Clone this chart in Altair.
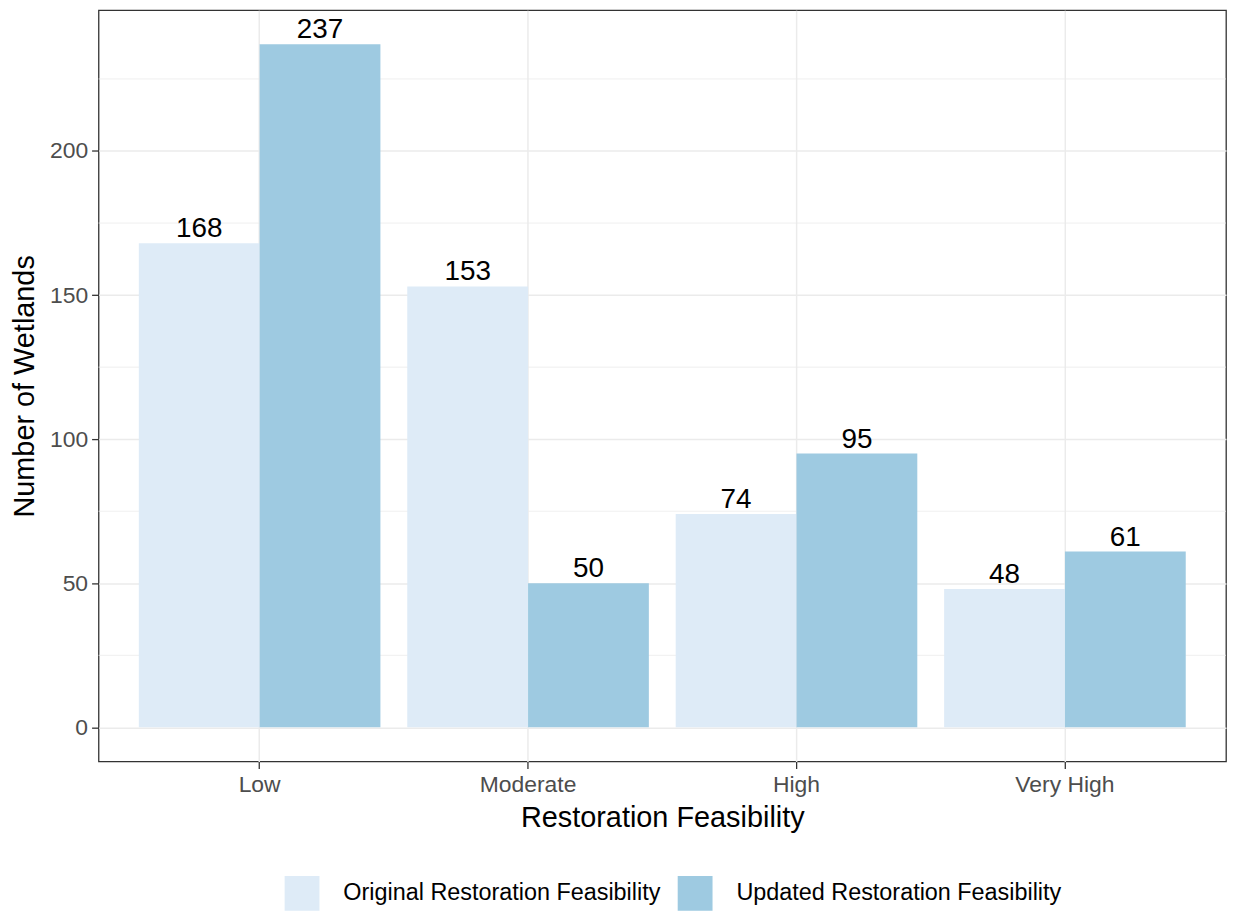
import altair as alt
import pandas as pd

categories = ["Low", "Moderate", "High", "Very High"]
series = ["Original Restoration Feasibility", "Updated Restoration Feasibility"]
original = [168, 153, 74, 48]
updated = [237, 50, 95, 61]
major_ticks = [0, 50, 100, 150, 200]
minor_ticks = [25, 75, 125, 175, 225]
colors = ["#deebf7", "#9ecae1"]

rows = []
for c, o, u in zip(categories, original, updated):
    rows.append({"cat": c, "series": series[0], "value": o})
    rows.append({"cat": c, "series": series[1], "value": u})
df = pd.DataFrame(rows)
minor_df = pd.DataFrame({"v": minor_ticks})

FONT = "Liberation Sans"

x_enc = alt.X(
    "cat:N", sort=categories, title="Restoration Feasibility",
    scale=alt.Scale(paddingInner=0.1, paddingOuter=0.15),
    axis=alt.Axis(bandPosition=0.5, labelAngle=0, labelFontSize=23, labelColor="#4d4d4d",
                  labelFont=FONT, titleFont=FONT,
                  titleFontSize=29, titleColor="#000000", titleFontWeight="normal",
                  tickColor="#333333", tickSize=7, tickWidth=1.3, labelPadding=5, titlePadding=7,
                  grid=True, gridColor="#ebebeb", gridWidth=1.5, domain=False),
)
y_scale = alt.Scale(domain=[-11.85, 248.85], nice=False, zero=False)
y_enc = alt.Y(
    "value:Q", scale=y_scale, title="Number of Wetlands",
    axis=alt.Axis(values=major_ticks, labelFontSize=23, labelColor="#4d4d4d",
                  labelFont=FONT, titleFont=FONT,
                  titleFontSize=29, titleColor="#000000", titleFontWeight="normal",
                  tickColor="#333333", tickSize=7, tickWidth=1.3, labelPadding=4, titlePadding=10,
                  grid=True, gridColor="#ebebeb", gridWidth=1.5, domain=False),
)
xo = alt.XOffset("series:N", sort=series, scale=alt.Scale(paddingInner=0, paddingOuter=0))

minor = alt.Chart(minor_df).mark_rule(color="#ebebeb", strokeWidth=0.8).encode(
    y=alt.Y("v:Q", scale=y_scale)
)

bars = alt.Chart(df).mark_bar().encode(
    x=x_enc, xOffset=xo, y=y_enc, y2=alt.datum(0),
    color=alt.Color("series:N", sort=series, scale=alt.Scale(domain=series, range=colors),
                    legend=alt.Legend(title=None, orient="none", legendX=187, legendY=870,
                                      direction="horizontal",
                                      symbolType="square", symbolSize=1225, symbolStrokeWidth=0,
                                      labelFontSize=23.5, labelColor="#000000", labelFont=FONT,
                                      labelLimit=0, labelOffset=24, columnPadding=17,
                                      symbolOffset=0, padding=0)),
)

text = alt.Chart(df).mark_text(baseline="alphabetic", dy=-6, fontSize=28, color="#000000", font=FONT).encode(
    x=x_enc, xOffset=xo, y=alt.Y("value:Q", scale=y_scale), text="value:Q"
)

chart = alt.layer(minor, bars, text).properties(
    width=1133, height=755,
    padding={"left": 2, "top": 0, "right": 0, "bottom": 0},
).configure(font=FONT).configure_view(stroke="#333333", strokeWidth=1.3)

chart.save("out.html", embed_options={"renderer": "svg", "actions": False})
